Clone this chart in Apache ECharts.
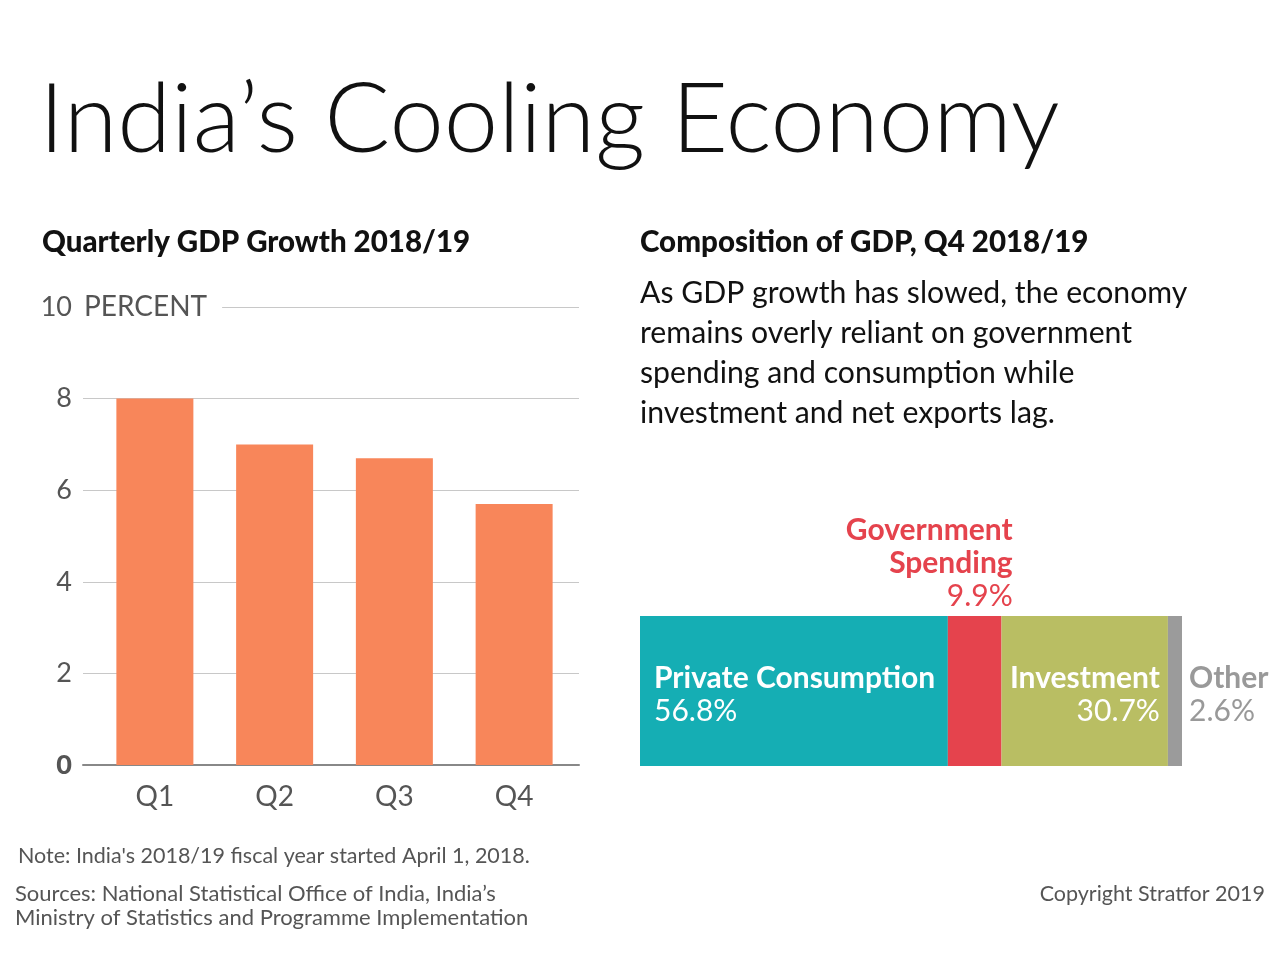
<!DOCTYPE html>
<html>
<head>
<meta charset="utf-8">
<script src="https://cdn.jsdelivr.net/npm/echarts@6/dist/echarts.min.js"></script>
<style>
html, body { margin: 0; padding: 0; background: #fff; }
#main { width: 1280px; height: 968px; }
</style>
</head>
<body>
<div id="main"></div>
<script>
// quarterly GDP growth, percent
var quarters = ['Q1', 'Q2', 'Q3', 'Q4'];
var growth = [8.0, 7.0, 6.7, 5.7];

// composition of GDP, Q4 2018/19
var parts = ['Private Consumption', 'Government\nSpending', 'Investment', 'Other'];
var shares = [56.8, 9.9, 30.7, 2.6];
var partColors = ['#15aeb4', '#e5434d', '#b9be63', '#9b9b9b'];

var FONT = 'Lato';

function partLabel(i) {
	var lines = parts[i].split('\n').map(function (l) { return '{n|' + l + '}'; });
	lines.push('{v|' + shares[i].toFixed(1) + '%}');
	return lines.join('\n');
}

function richFor(color) {
	return {
		n: { fontFamily: FONT, fontWeight: 'bold', fontSize: 30, lineHeight: 33, color: color },
		v: { fontFamily: FONT, fontSize: 30, lineHeight: 33, color: color }
	};
}

// label placement for each part of the stacked bar
var labelPos = [
	{ position: 'insideLeft', distance: 14, align: 'left', offset: [0, 4], color: '#fff' },
	{ position: 'top', distance: 6, align: 'right', offset: [38, 3], color: '#e5434d' },
	{ position: 'insideRight', distance: 8, align: 'right', offset: [0, 4], color: '#fff' },
	{ position: 'right', distance: 7, align: 'left', offset: [0, 4], color: '#999' }
];

var compSeries = shares.map(function (v, i) {
	var p = labelPos[i];
	return {
		name: parts[i].replace('\n', ' '),
		type: 'bar',
		stack: 'gdp',
		xAxisIndex: 2,
		yAxisIndex: 2,
		barWidth: 150,
		itemStyle: { color: partColors[i] },
		label: {
			show: true,
			position: p.position,
			distance: p.distance,
			align: p.align,
			offset: p.offset,
			formatter: partLabel(i),
			rich: richFor(p.color)
		},
		data: [v]
	};
});

var myChart = echarts.init(document.getElementById('main'));

var option = {
	backgroundColor: '#fff',
	animation: false,
	title: [
		{
			text: 'India\u2019s Cooling Economy',
			left: 39, top: 72, padding: 0,
			textStyle: { fontFamily: FONT, fontWeight: 300, fontSize: 97.6, color: '#111' }
		},
		{
			text: 'Quarterly GDP Growth 2018/19',
			left: 42, top: 227, padding: 0,
			textStyle: { fontFamily: FONT, fontWeight: 900, fontSize: 29.5, color: '#111' }
		},
		{
			text: 'Composition of GDP, Q4 2018/19',
			left: 640, top: 227, padding: 0,
			textStyle: { fontFamily: FONT, fontWeight: 900, fontSize: 29.5, color: '#111' }
		},
		{
			text: 'As GDP growth has slowed, the economy\nremains overly reliant on government\nspending and consumption while\ninvestment and net exports lag.',
			left: 640, top: 273, padding: 0,
			textStyle: { fontFamily: FONT, fontWeight: 'normal', fontSize: 30.2, lineHeight: 40, color: '#111' }
		},
		{
			// unit label next to the top tick, covers the start of the top gridline
			text: 'PERCENT',
			left: 83, top: 291, padding: [0, 15, 0, 1],
			backgroundColor: '#fff',
			textStyle: { fontFamily: FONT, fontSize: 28, lineHeight: 32, color: '#555', fontWeight: 'normal' }
		},
		{
			text: "Note: India's 2018/19 fiscal year started April 1, 2018.",
			left: 18, top: 845, padding: 0,
			textStyle: { fontFamily: FONT, fontSize: 21.5, color: '#555', fontWeight: 'normal' }
		},
		{
			text: 'Sources: National Statistical Office of India, India\u2019s\nMinistry of Statistics and Programme Implementation',
			left: 15, top: 882, padding: 0,
			textStyle: { fontFamily: FONT, fontSize: 22, lineHeight: 24, color: '#555', fontWeight: 'normal' }
		},
		{
			text: 'Copyright Stratfor 2019',
			right: 15, top: 882, padding: 0,
			textStyle: { fontFamily: FONT, fontSize: 21.5, lineHeight: 24, color: '#555', fontWeight: 'normal' }
		}
	],
	grid: [
		{ left: 83, right: 701, top: 307, bottom: 203 },   // gridlines and y labels
		{ left: 95, right: 706, top: 307, bottom: 203 },   // bars
		{ left: 640, right: 98, top: 616, bottom: 202 }    // composition bar
	],
	xAxis: [
		{
			gridIndex: 0, type: 'value', min: 0, max: 1,
			axisLine: { show: true, lineStyle: { color: '#888', width: 2 } },
			axisTick: { show: false }, axisLabel: { show: false }, splitLine: { show: false }
		},
		{
			gridIndex: 1, type: 'category', data: quarters,
			axisLine: { show: false }, axisTick: { show: false },
			axisLabel: { margin: 18, fontFamily: FONT, fontSize: 28, color: '#555' }
		},
		{ gridIndex: 2, type: 'value', min: 0, max: 100, show: false }
	],
	yAxis: [
		{
			gridIndex: 0, type: 'value', min: 0, max: 10, interval: 2,
			axisLine: { show: false }, axisTick: { show: false },
			splitLine: { lineStyle: { color: '#c8c8c8', width: 1 } },
			axisLabel: {
				margin: 11, fontFamily: FONT, fontSize: 27, color: '#555',
				formatter: function (v) { return v === 0 ? '{b|0}' : String(v); },
				rich: { b: { fontFamily: FONT, fontSize: 27, fontWeight: 900, color: '#555' } }
			}
		},
		{ gridIndex: 1, type: 'value', min: 0, max: 10, show: false },
		{ gridIndex: 2, type: 'category', data: ['GDP'], show: false }
	],
	series: [
		{
			name: 'GDP growth',
			type: 'bar',
			xAxisIndex: 1,
			yAxisIndex: 1,
			barWidth: 77,
			itemStyle: { color: '#f8865a' },
			data: growth
		}
	].concat(compSeries)
};

myChart.setOption(option);
</script>
</body>
</html>
